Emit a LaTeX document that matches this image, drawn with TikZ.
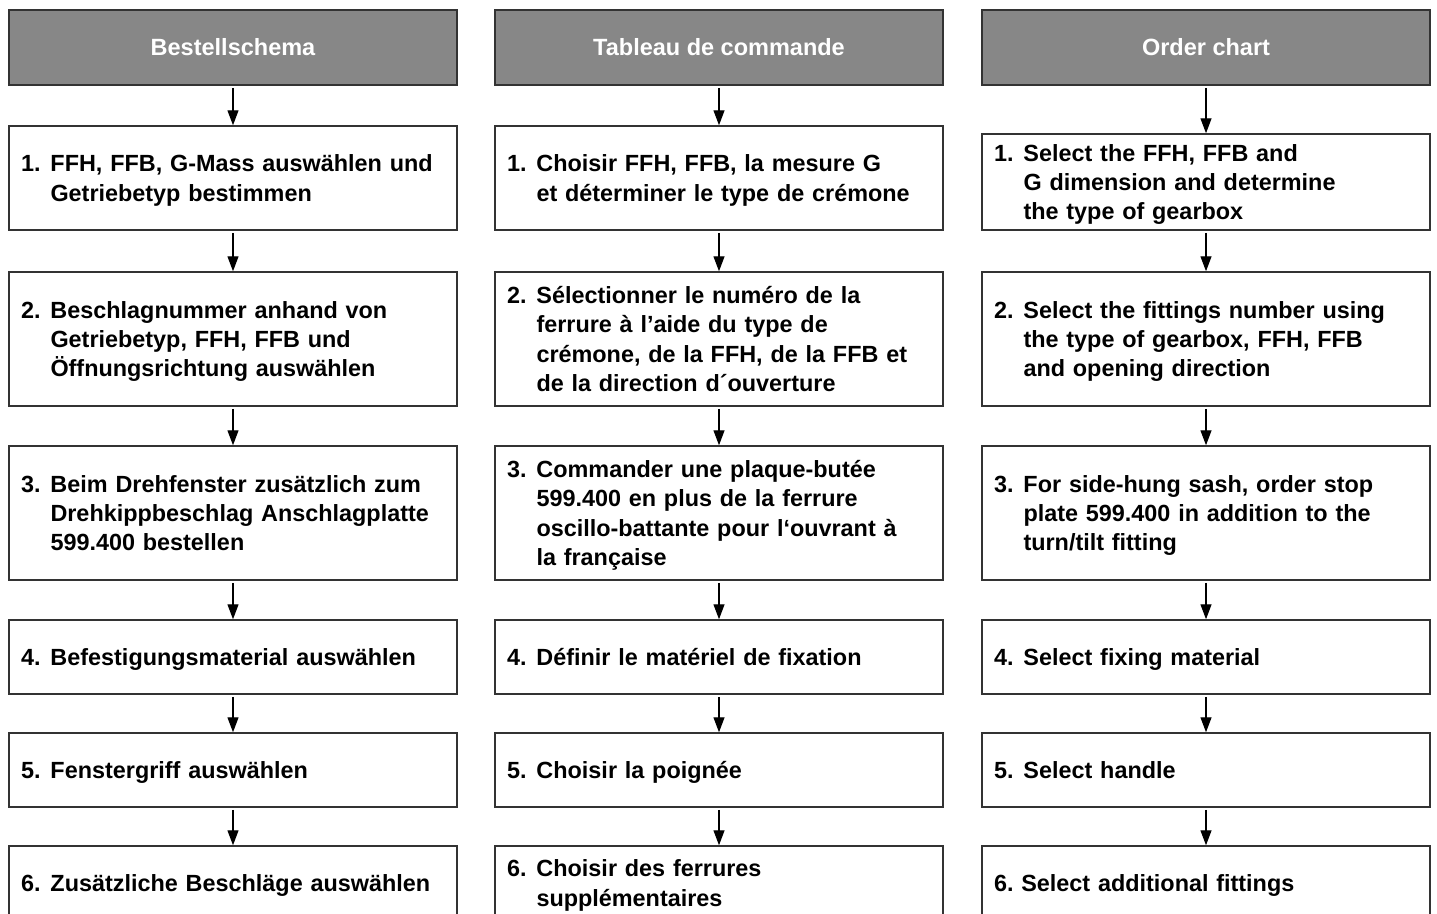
\documentclass[tikz,border=0pt]{standalone}
\usepackage{fontspec}
\setmainfont{Liberation Sans}
\usetikzlibrary{arrows.meta}
\definecolor{hdrgray}{HTML}{878787}
\definecolor{edgegray}{HTML}{333333}
\newcommand\stepitem[2]{\raisebox{-2.5pt}[\height][\depth]{\makebox[29.5pt][l]{#1}\begin{tabular}[t]{@{}l@{}}#2\end{tabular}}}
\newcommand\plainitem[1]{\raisebox{-2.5pt}[\height][\depth]{#1}}
\tikzset{
  hdr/.style={draw=edgegray, line width=1.5pt, fill=hdrgray, text=white,
    minimum width=448pt, minimum height=75pt, inner sep=0pt,
    font=\fontsize{23.5}{28}\selectfont\bfseries},
  stepbox/.style={draw=edgegray, line width=1.5pt, fill=white,
    text width=424pt, inner xsep=12pt, inner ysep=0pt, align=left,
    font=\fontsize{23.4}{29.3}\selectfont\bfseries},
  arr/.style={line width=1.3pt, -{Triangle[length=15pt,width=11pt]}, shorten <=2pt}
}
\begin{document}
\begin{tikzpicture}[x=1pt,y=-1pt]
\path[use as bounding box, clip] (0,0) rectangle (1437,913);
\fill[white] (0,0) rectangle (1437,913);
% column 1
\node[hdr] (h1) at (233,47.5) {Bestellschema};
\node[stepbox, minimum height=104pt] (a1) at (233,178) {\stepitem{1.}{FFH, FFB, G-Mass auswählen und\\Getriebetyp bestimmen}};
\node[stepbox, minimum height=134pt] (a2) at (233,339) {\stepitem{2.}{Beschlagnummer anhand von\\Getriebetyp, FFH, FFB und\\Öffnungsrichtung auswählen}};
\node[stepbox, minimum height=134pt] (a3) at (233,513) {\stepitem{3.}{Beim Drehfenster zusätzlich zum\\Drehkippbeschlag Anschlagplatte\\599.400 bestellen}};
\node[stepbox, minimum height=74pt] (a4) at (233,657) {\stepitem{4.}{Befestigungsmaterial auswählen}};
\node[stepbox, minimum height=74pt] (a5) at (233,770) {\stepitem{5.}{Fenstergriff auswählen}};
\node[stepbox, minimum height=74pt] (a6) at (233,883) {\stepitem{6.}{Zusätzliche Beschläge auswählen}};
% column 2
\node[hdr] (h2) at (719,47.5) {Tableau de commande};
\node[stepbox, minimum height=104pt] (b1) at (719,178) {\stepitem{1.}{Choisir FFH, FFB, la mesure G\\et déterminer le type de crémone}};
\node[stepbox, minimum height=134pt] (b2) at (719,339) {\stepitem{2.}{Sélectionner le numéro de la\\ferrure à l’aide du type de\\crémone, de la FFH, de la FFB et\\de la direction d´ouverture}};
\node[stepbox, minimum height=134pt] (b3) at (719,513) {\stepitem{3.}{Commander une plaque-butée\\599.400 en plus de la ferrure\\oscillo-battante pour l‘ouvrant à\\la française}};
\node[stepbox, minimum height=74pt] (b4) at (719,657) {\stepitem{4.}{Définir le matériel de fixation}};
\node[stepbox, minimum height=74pt] (b5) at (719,770) {\stepitem{5.}{Choisir la poignée}};
\node[stepbox, minimum height=74pt] (b6) at (719,883) {\stepitem{6.}{Choisir des ferrures\\supplémentaires}};
% column 3
\node[hdr] (h3) at (1206,47.5) {Order chart};
\node[stepbox, minimum height=96pt] (c1) at (1206,182) {\stepitem{1.}{Select the FFH, FFB and\\G dimension and determine\\the type of gearbox}};
\node[stepbox, minimum height=134pt] (c2) at (1206,339) {\stepitem{2.}{Select the fittings number using\\the type of gearbox, FFH, FFB\\and opening direction}};
\node[stepbox, minimum height=134pt] (c3) at (1206,513) {\stepitem{3.}{For side-hung sash, order stop\\plate 599.400 in addition to the\\turn/tilt fitting}};
\node[stepbox, minimum height=74pt] (c4) at (1206,657) {\stepitem{4.}{Select fixing material}};
\node[stepbox, minimum height=74pt] (c5) at (1206,770) {\stepitem{5.}{Select handle}};
\node[stepbox, minimum height=74pt] (c6) at (1206,883) {\plainitem{6.\ Select additional fittings}};
% arrows
\foreach \h/\c in {h1/a,h2/b,h3/c}{
  \draw[arr] (\h.south) -- (\c1.north);
  \draw[arr] (\c1.south) -- (\c2.north);
  \draw[arr] (\c2.south) -- (\c3.north);
  \draw[arr] (\c3.south) -- (\c4.north);
  \draw[arr] (\c4.south) -- (\c5.north);
  \draw[arr] (\c5.south) -- (\c6.north);
}
\end{tikzpicture}
\end{document}
